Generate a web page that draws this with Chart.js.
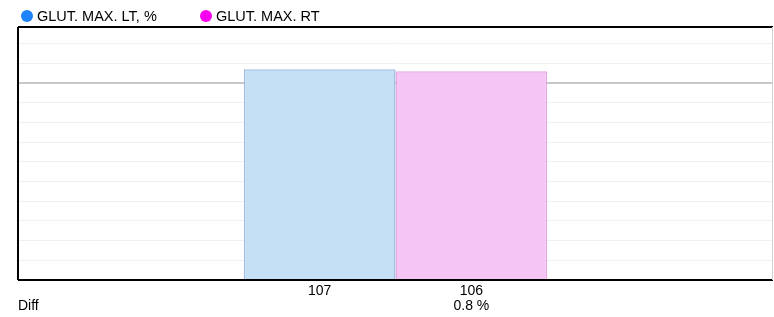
<!DOCTYPE html>
<html>
<head>
<meta charset="utf-8">
<script src="https://cdn.jsdelivr.net/npm/chart.js@4/dist/chart.umd.min.js"></script>
<style>
  html, body { margin: 0; padding: 0; background: #fff; }
  #wrap { width: 774px; height: 317px; position: relative; }
</style>
</head>
<body>
<div id="wrap"><canvas id="c" width="774" height="317"></canvas></div>
<script>
// ---- data ----
const categories = [""];
const seriesNames = ["GLUT. MAX. LT, %", "GLUT. MAX. RT"];
const leftValues = [107];
const rightValues = [106];
const diffLabels = ["", "0.8 %"];
const diffTitle = "Diff";
const referenceLine = 100;
const yMax = 128.4;
const yStep = 10;

const legendColors = ["#1e82f8", "#fa00f0"];
const fillColors = ["#c5dff5", "#f5c6f5"];
const borderColors = ["#9fc0e3", "#e2a6e2"];
const FONT = "Liberation Sans, Arial, Helvetica, sans-serif";

const overlay = {
  id: "overlay",
  afterDraw(chart) {
    const ctx = chart.ctx;
    const a = chart.chartArea;
    ctx.save();
    // frame
    ctx.strokeStyle = "#000";
    ctx.lineWidth = 2;
    ctx.beginPath();
    ctx.moveTo(a.left, a.top); ctx.lineTo(a.right, a.top);
    ctx.moveTo(a.left, a.top); ctx.lineTo(a.left, a.bottom);
    ctx.moveTo(a.left, a.bottom); ctx.lineTo(a.right, a.bottom);
    ctx.stroke();
    ctx.strokeStyle = "#d0d0d0";
    ctx.lineWidth = 1;
    ctx.beginPath();
    ctx.moveTo(a.right - 0.5, a.top); ctx.lineTo(a.right - 0.5, a.bottom);
    ctx.stroke();

    // legend
    ctx.font = "14.5px " + FONT;
    ctx.textBaseline = "middle";
    ctx.textAlign = "left";
    const legendX = [27, 206];
    chart.data.datasets.forEach((ds, i) => {
      ctx.fillStyle = legendColors[i];
      ctx.beginPath();
      ctx.arc(legendX[i], 16, 6, 0, Math.PI * 2);
      ctx.fill();
      ctx.fillStyle = "#000";
      ctx.fillText(ds.label, legendX[i] + 10, 16.5);
    });

    // value labels under the bars
    ctx.font = "14px " + FONT;
    ctx.textAlign = "center";
    chart.data.datasets.forEach((ds, i) => {
      const meta = chart.getDatasetMeta(i);
      meta.data.forEach((bar, j) => {
        ctx.fillStyle = "#000";
        ctx.fillText(String(ds.data[j]), bar.x, 291);
        if (diffLabels[i]) ctx.fillText(diffLabels[i], bar.x, 306);
      });
    });
    ctx.textAlign = "left";
    ctx.fillText(diffTitle, a.left, 306);
    ctx.restore();
  }
};

new Chart(document.getElementById("c"), {
  type: "bar",
  data: {
    labels: categories,
    datasets: [
      { label: seriesNames[0], data: leftValues, backgroundColor: fillColors[0], borderColor: borderColors[0], borderWidth: 1.5, borderSkipped: "bottom" },
      { label: seriesNames[1], data: rightValues, backgroundColor: fillColors[1], borderColor: borderColors[1], borderWidth: 1.5, borderSkipped: "bottom" }
    ]
  },
  options: {
    responsive: false,
    animation: false,
    layout: { padding: { top: 27, left: 18, right: 1, bottom: 37 } },
    datasets: { bar: { categoryPercentage: 0.402, barPercentage: 1.0 } },
    plugins: { legend: { display: false }, tooltip: { enabled: false } },
    scales: {
      x: { display: false },
      y: {
        display: true,
        min: 0,
        max: yMax,
        ticks: { display: false, stepSize: yStep, includeBounds: false },
        border: { display: false },
        grid: {
          drawTicks: false,
          color: (c) => (c.tick && c.tick.value === referenceLine ? "#c8c8c8" : "#f0f0f0"),
          lineWidth: (c) => (c.tick && c.tick.value === referenceLine ? 2 : 1)
        }
      }
    }
  },
  plugins: [overlay]
});
</script>
</body>
</html>
